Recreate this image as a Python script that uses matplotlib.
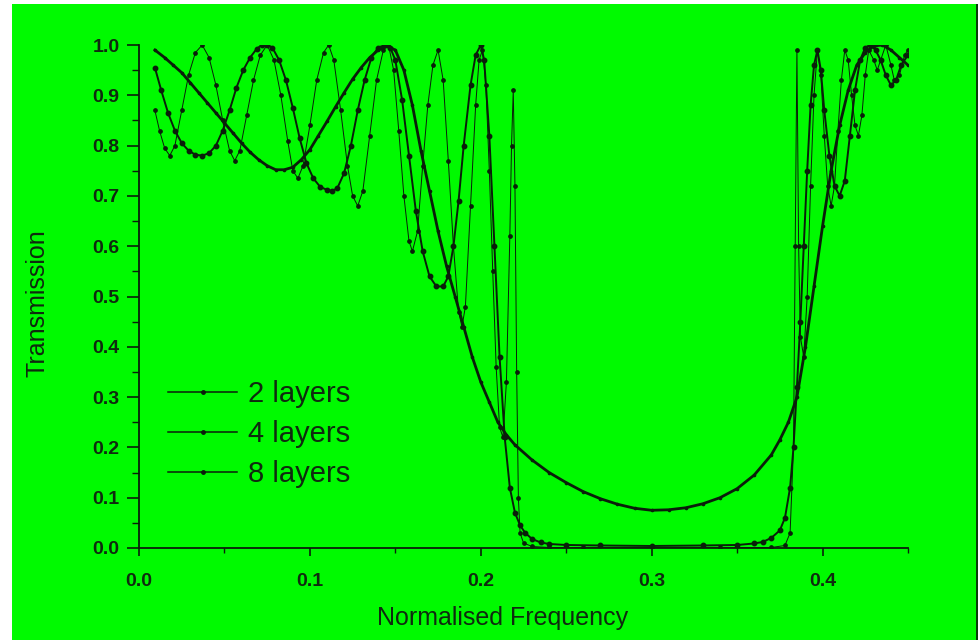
import matplotlib
matplotlib.use("Agg")
import matplotlib.pyplot as plt
from matplotlib.patches import Rectangle
from matplotlib.ticker import MultipleLocator, FormatStrFormatter

# ---------------- data ----------------
labels = ["2 layers", "4 layers", "8 layers"]

x2 = [0.0093, 0.015, 0.02, 0.025, 0.03, 0.035, 0.04, 0.045, 0.05, 0.055, 0.06, 0.065,
      0.07, 0.075, 0.08, 0.085, 0.09, 0.095, 0.10, 0.105, 0.11, 0.115, 0.12, 0.125,
      0.13, 0.135, 0.14, 0.145, 0.15, 0.155, 0.16, 0.165, 0.17, 0.175, 0.18, 0.185,
      0.19, 0.195, 0.20, 0.205, 0.21, 0.215, 0.22, 0.23, 0.24, 0.25, 0.26, 0.27,
      0.28, 0.29, 0.30, 0.31, 0.32, 0.33, 0.34, 0.35, 0.36, 0.37, 0.375, 0.38,
      0.385, 0.39, 0.395, 0.40, 0.405, 0.41, 0.415, 0.42, 0.425, 0.43, 0.435,
      0.44, 0.445, 0.45]
t2 = [0.99, 0.975, 0.96, 0.945, 0.925, 0.905, 0.885, 0.865, 0.845, 0.825, 0.805, 0.787,
      0.772, 0.76, 0.752, 0.752, 0.757, 0.772, 0.792, 0.82, 0.848, 0.877, 0.905, 0.932,
      0.955, 0.975, 0.99, 0.998, 0.99, 0.95, 0.88, 0.79, 0.71, 0.63, 0.56, 0.50,
      0.44, 0.38, 0.33, 0.29, 0.25, 0.225, 0.205, 0.175, 0.15, 0.13, 0.112, 0.098,
      0.087, 0.079, 0.075, 0.076, 0.08, 0.088, 0.10, 0.118, 0.145, 0.185, 0.215, 0.25,
      0.30, 0.40, 0.52, 0.64, 0.75, 0.84, 0.91, 0.96, 0.985, 0.998, 1.0,
      0.99, 0.975, 0.96]

x4 = [0.0093, 0.013, 0.017, 0.021, 0.025, 0.029, 0.033, 0.037, 0.041, 0.045, 0.049,
      0.053, 0.057, 0.061, 0.065, 0.069, 0.072, 0.075, 0.078, 0.082, 0.086, 0.090,
      0.094, 0.098, 0.102, 0.106, 0.110, 0.113, 0.116, 0.120, 0.124, 0.128, 0.132,
      0.136, 0.140, 0.144, 0.147, 0.150, 0.154, 0.158, 0.162, 0.166, 0.170, 0.174,
      0.178, 0.181, 0.184, 0.187, 0.190, 0.194, 0.197, 0.200, 0.202, 0.205, 0.208,
      0.211, 0.214, 0.217, 0.220, 0.223, 0.226, 0.23, 0.235, 0.24, 0.25, 0.27, 0.30,
      0.33, 0.35, 0.36, 0.365, 0.37, 0.375, 0.378, 0.381, 0.383, 0.385, 0.387, 0.389,
      0.391, 0.393, 0.395, 0.397, 0.399, 0.401, 0.404, 0.407, 0.41, 0.413, 0.416,
      0.419, 0.422, 0.425, 0.428, 0.431, 0.434, 0.437, 0.44, 0.443, 0.446, 0.45]
t4 = [0.955, 0.91, 0.865, 0.83, 0.805, 0.79, 0.782, 0.78, 0.785, 0.80, 0.83,
      0.87, 0.915, 0.95, 0.975, 0.993, 1.0, 1.0, 0.995, 0.97, 0.93, 0.875,
      0.815, 0.765, 0.735, 0.718, 0.712, 0.71, 0.715, 0.745, 0.80, 0.87, 0.93,
      0.975, 0.995, 1.0, 0.995, 0.97, 0.89, 0.78, 0.67, 0.59, 0.54, 0.52,
      0.52, 0.54, 0.60, 0.69, 0.80, 0.92, 0.98, 1.0, 0.97, 0.82, 0.60,
      0.38, 0.22, 0.12, 0.07, 0.045, 0.03, 0.018, 0.011, 0.008, 0.006, 0.005, 0.004,
      0.005, 0.006, 0.009, 0.012, 0.02, 0.035, 0.06, 0.12, 0.20, 0.32, 0.45, 0.60,
      0.75, 0.88, 0.96, 0.99, 0.95, 0.87, 0.78, 0.72, 0.70, 0.73, 0.82,
      0.91, 0.97, 0.995, 1.0, 0.99, 0.97, 0.94, 0.92, 0.93, 0.96, 0.98]

x8 = [0.0093, 0.012, 0.015, 0.018, 0.021, 0.025, 0.029, 0.033, 0.037, 0.041, 0.045,
      0.049, 0.053, 0.056, 0.059, 0.063, 0.067, 0.071, 0.075, 0.079, 0.083, 0.087,
      0.090, 0.093, 0.096, 0.100, 0.104, 0.108, 0.111, 0.114, 0.118, 0.122, 0.125,
      0.128, 0.131, 0.135, 0.139, 0.143, 0.146, 0.149, 0.152, 0.155, 0.158, 0.160,
      0.163, 0.166, 0.169, 0.172, 0.175, 0.178, 0.181, 0.184, 0.187, 0.189, 0.191,
      0.194, 0.197, 0.199, 0.201, 0.203, 0.205, 0.207, 0.209, 0.211, 0.213, 0.215,
      0.217, 0.218, 0.219, 0.220, 0.221, 0.222, 0.223, 0.225, 0.23, 0.24, 0.26, 0.30,
      0.34, 0.37, 0.378, 0.381, 0.383, 0.384, 0.385, 0.386, 0.387, 0.389, 0.391,
      0.393, 0.395, 0.397, 0.399, 0.401, 0.403, 0.405, 0.407, 0.409, 0.411, 0.413,
      0.415, 0.417, 0.419, 0.421, 0.423, 0.425, 0.427, 0.430, 0.432, 0.434, 0.437,
      0.440, 0.442, 0.445, 0.448, 0.45]
t8 = [0.87, 0.83, 0.795, 0.78, 0.80, 0.87, 0.94, 0.985, 1.0, 0.975, 0.92,
      0.85, 0.79, 0.77, 0.79, 0.86, 0.93, 0.98, 1.0, 0.97, 0.90, 0.81,
      0.75, 0.735, 0.76, 0.84, 0.93, 0.985, 1.0, 0.97, 0.87, 0.76, 0.70,
      0.68, 0.71, 0.82, 0.93, 0.99, 1.0, 0.95, 0.83, 0.70, 0.61, 0.59,
      0.63, 0.76, 0.88, 0.96, 0.99, 0.93, 0.77, 0.60, 0.47, 0.44, 0.48,
      0.68, 0.88, 0.97, 0.99, 0.92, 0.75, 0.55, 0.36, 0.24, 0.22, 0.33,
      0.62, 0.80, 0.91, 0.72, 0.35, 0.10, 0.03, 0.01, 0.003, 0.001, 0.001, 0.001,
      0.001, 0.001, 0.005, 0.03, 0.20, 0.60, 0.99, 0.60, 0.42, 0.38, 0.50,
      0.72, 0.90, 0.99, 0.94, 0.82, 0.72, 0.68, 0.72, 0.83, 0.93, 0.99,
      0.97, 0.90, 0.84, 0.82, 0.86, 0.94, 0.99, 0.97, 0.95, 0.97, 1.0,
      0.96, 0.93, 0.94, 0.98, 0.99]

xticks = [0.0, 0.1, 0.2, 0.3, 0.4]
yticks = [0.0, 0.1, 0.2, 0.3, 0.4, 0.5, 0.6, 0.7, 0.8, 0.9, 1.0]

# ---------------- styling ----------------
GREEN = "#00fa00"
INK = "#0a1e0a"
TXT = "#0f2a0f"
plt.rcParams["font.family"] = ["Liberation Sans", "DejaVu Sans"]

fig = plt.figure(figsize=(9.8, 6.4), dpi=100, facecolor="white")
bg = Rectangle((12 / 980, 0), (977 - 12) / 980, 1 - 4 / 640,
               transform=fig.transFigure, facecolor=GREEN, edgecolor="none", zorder=-10)
edge = Rectangle((976 / 980, 0), 2 / 980, 1 - 4 / 640,
                 transform=fig.transFigure, facecolor="#0b3a0b", edgecolor="none", zorder=-9)
fig.patches.extend([bg, edge])

L, R, B, T = 139 / 980, 908 / 980, 1 - 548 / 640, 1 - 45 / 640
ax = fig.add_axes([L, B, R - L, T - B])
ax.set_facecolor("none")
ax.set_zorder(1)

ax.plot(x2, t2, color=INK, lw=2.0, marker="o", ms=1.6, label=labels[0], zorder=3)
ax.plot(x4, t4, color=INK, lw=1.4, marker="o", ms=3.2, label=labels[1], zorder=4)
ax.plot(x8, t8, color=INK, lw=0.7, marker="o", ms=2.4, label=labels[2], zorder=5)

ax.set_xlim(0, 0.45)
ax.set_ylim(0, 1.0)
for s in ("top", "right"):
    ax.spines[s].set_visible(False)
for s in ("left", "bottom"):
    ax.spines[s].set_color(INK)
    ax.spines[s].set_linewidth(1.3)

ax.set_xticks(xticks)
ax.set_yticks(yticks)
ax.xaxis.set_minor_locator(MultipleLocator(0.05))
ax.yaxis.set_minor_locator(MultipleLocator(0.05))
ax.xaxis.set_major_formatter(FormatStrFormatter("%.1f"))
ax.yaxis.set_major_formatter(FormatStrFormatter("%.1f"))
ax.tick_params(axis="y", which="major", direction="out", length=9, width=1.2,
               color=INK, labelsize=14, labelcolor=TXT, pad=5)
ax.tick_params(axis="y", which="minor", direction="out", length=5, width=1.0, color=INK)
ax.tick_params(axis="x", which="major", direction="out", length=6, width=1.2,
               color=INK, labelsize=14, labelcolor=TXT, pad=12)
ax.tick_params(axis="x", which="minor", direction="out", length=3.5, width=1.0, color=INK)
for lab in ax.get_xticklabels() + ax.get_yticklabels():
    lab.set_fontweight("bold")

ax.set_xlabel("Normalised Frequency", fontsize=18, color=TXT)
ax.set_ylabel("Transmission", fontsize=18, color=TXT)
ax.xaxis.set_label_coords(0.473, -0.115)
ax.yaxis.set_label_coords(-0.117, 0.487)

leg = ax.legend(loc="upper left", bbox_to_anchor=(0.004, 0.386), frameon=False,
                fontsize=21, handlelength=2.36, handletextpad=0.36, labelspacing=0.41,
                numpoints=1)
for t in leg.get_texts():
    t.set_color(TXT)
for h in leg.legend_handles:
    h.set_linewidth(1.1)
    h.set_markersize(2.5)

fig.savefig("out.png", dpi=100, facecolor="white")
